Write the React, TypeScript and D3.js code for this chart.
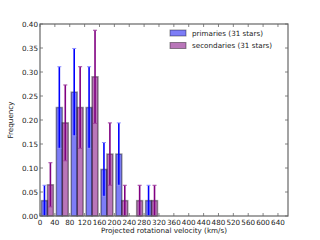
import { useEffect, useRef } from 'react'
import * as d3 from 'd3'

// histogram bins (km/s), bin width 40
const binStarts = [0, 40, 80, 120, 160, 200, 240, 280, 320, 360, 400, 440, 480, 520, 560, 600, 640]
const primFreq = [0.032, 0.226, 0.258, 0.226, 0.097, 0.129, 0, 0.032, 0, 0, 0, 0, 0, 0, 0, 0, 0]
const primErr = [0.032, 0.085, 0.091, 0.085, 0.056, 0.065, 0, 0.032, 0, 0, 0, 0, 0, 0, 0, 0, 0]
const secFreq = [0.065, 0.194, 0.226, 0.29, 0.129, 0.032, 0.032, 0.032, 0, 0, 0, 0, 0, 0, 0, 0, 0]
const secErr = [0.046, 0.079, 0.085, 0.097, 0.065, 0.032, 0.032, 0.032, 0, 0, 0, 0, 0, 0, 0, 0, 0]
const xTicks = [0, 40, 80, 120, 160, 200, 240, 280, 320, 360, 400, 440, 480, 520, 560, 600, 640]
const yTicks = [0, 0.05, 0.1, 0.15, 0.2, 0.25, 0.3, 0.35, 0.4]
const legendLabels = ['primaries (31 stars)', 'secondaries (31 stars)']

const binWidth = 40

export default function App() {
  const svgRef = useRef<SVGSVGElement>(null)

  useEffect(() => {
    if (!svgRef.current) return
    const svg = d3.select(svgRef.current)
    svg.selectAll('*').remove()

    const left = 40
    const right = 288
    const top = 24
    const bottom = 216
    const font = 'DejaVu Sans, sans-serif'
    const fs = 7.2
    const textColor = '#222'

    const x = d3.scaleLinear().domain([0, 667]).range([left, right])
    const y = d3.scaleLinear().domain([0, 0.4]).range([bottom, top])

    svg.append('defs').append('clipPath').attr('id', 'plot-clip')
      .append('rect').attr('x', left).attr('y', top - 10).attr('width', right - left).attr('height', bottom - top + 12)

    const series = [
      { freq: primFreq, err: primErr, fill: '#2626f2', line: '#0000ff', cap: '#8c8cff', off: 0.1 },
      { freq: secFreq, err: secErr, fill: '#8a1a8a', line: '#800080', cap: '#a040a0', off: 0.5 },
    ]

    const plot = svg.append('g').attr('clip-path', 'url(#plot-clip)')

    series.forEach((s) => {
      plot.append('g')
        .selectAll('rect')
        .data(binStarts)
        .enter()
        .append('rect')
        .attr('x', (b) => x(b + binWidth * s.off))
        .attr('width', (b) => x(b + binWidth * (s.off + 0.4)) - x(b + binWidth * s.off))
        .attr('y', (b, i) => y(s.freq[i]))
        .attr('height', (b, i) => y(0) - y(s.freq[i]))
        .attr('fill', s.fill)
        .attr('fill-opacity', 0.6)
        .attr('stroke', '#000')
        .attr('stroke-opacity', 0.4)
        .attr('stroke-width', 1.5)
    })

    series.forEach((s) => {
      const g = plot.append('g')
      binStarts.forEach((b, i) => {
        if (s.err[i] <= 0) return
        const cx = x(b + binWidth * (s.off + 0.2))
        const y0 = y(Math.max(0, s.freq[i] - s.err[i]))
        const y1 = y(s.freq[i] + s.err[i])
        g.append('line')
          .attr('x1', cx).attr('x2', cx).attr('y1', y0).attr('y2', y1)
          .attr('stroke', s.line).attr('stroke-width', 1.6)
        ;[y0, y1].forEach((yy) => {
          g.append('line')
            .attr('x1', cx - 2).attr('x2', cx + 2).attr('y1', yy).attr('y2', yy)
            .attr('stroke', s.cap).attr('stroke-width', 1)
        })
      })
    })

    // frame
    svg.append('rect')
      .attr('x', left).attr('y', top).attr('width', right - left).attr('height', bottom - top)
      .attr('fill', 'none').attr('stroke', '#666').attr('stroke-width', 1.2)

    // x ticks
    const xt = svg.append('g')
    xTicks.forEach((t) => {
      xt.append('line').attr('x1', x(t)).attr('x2', x(t)).attr('y1', bottom).attr('y2', bottom - 3)
        .attr('stroke', '#666').attr('stroke-width', 0.8)
      xt.append('line').attr('x1', x(t)).attr('x2', x(t)).attr('y1', top).attr('y2', top + 3)
        .attr('stroke', '#666').attr('stroke-width', 0.8)
      xt.append('text').attr('x', x(t)).attr('y', bottom + 9)
        .attr('text-anchor', 'middle').attr('font-family', font).attr('font-size', fs)
        .attr('fill', textColor).text(String(t))
    })

    // y ticks
    const yt = svg.append('g')
    yTicks.forEach((t) => {
      yt.append('line').attr('x1', left).attr('x2', left + 3).attr('y1', y(t)).attr('y2', y(t))
        .attr('stroke', '#666').attr('stroke-width', 0.8)
      yt.append('line').attr('x1', right).attr('x2', right - 3).attr('y1', y(t)).attr('y2', y(t))
        .attr('stroke', '#666').attr('stroke-width', 0.8)
      yt.append('text').attr('x', left - 2).attr('y', y(t) + 2.5)
        .attr('text-anchor', 'end').attr('font-family', font).attr('font-size', fs)
        .attr('fill', textColor).text(d3.format('.2f')(t))
    })

    svg.append('text')
      .attr('x', (left + right) / 2).attr('y', 233)
      .attr('text-anchor', 'middle').attr('font-family', font).attr('font-size', fs)
      .attr('fill', textColor).text('Projected rotational velocity (km/s)')

    svg.append('text')
      .attr('transform', `translate(13,${(top + bottom) / 2}) rotate(-90)`)
      .attr('text-anchor', 'middle').attr('font-family', font).attr('font-size', fs)
      .attr('fill', textColor).text('Frequency')

    // legend
    const lg = svg.append('g')
    legendLabels.forEach((label, i) => {
      const yy = 30 + i * 12.5
      lg.append('rect').attr('x', 170).attr('y', yy).attr('width', 16).attr('height', 6)
        .attr('fill', series[i].fill).attr('fill-opacity', 0.6)
        .attr('stroke', '#000').attr('stroke-opacity', 0.4).attr('stroke-width', 1)
      lg.append('text').attr('x', 192).attr('y', yy + 5.5)
        .attr('font-family', font).attr('font-size', fs)
        .attr('fill', textColor).text(label)
    })
  }, [])

  return (
    <svg
      ref={svgRef}
      width={320}
      height={240}
      style={{ position: 'absolute', left: 0, top: 0, background: '#fff' }}
    />
  )
}
